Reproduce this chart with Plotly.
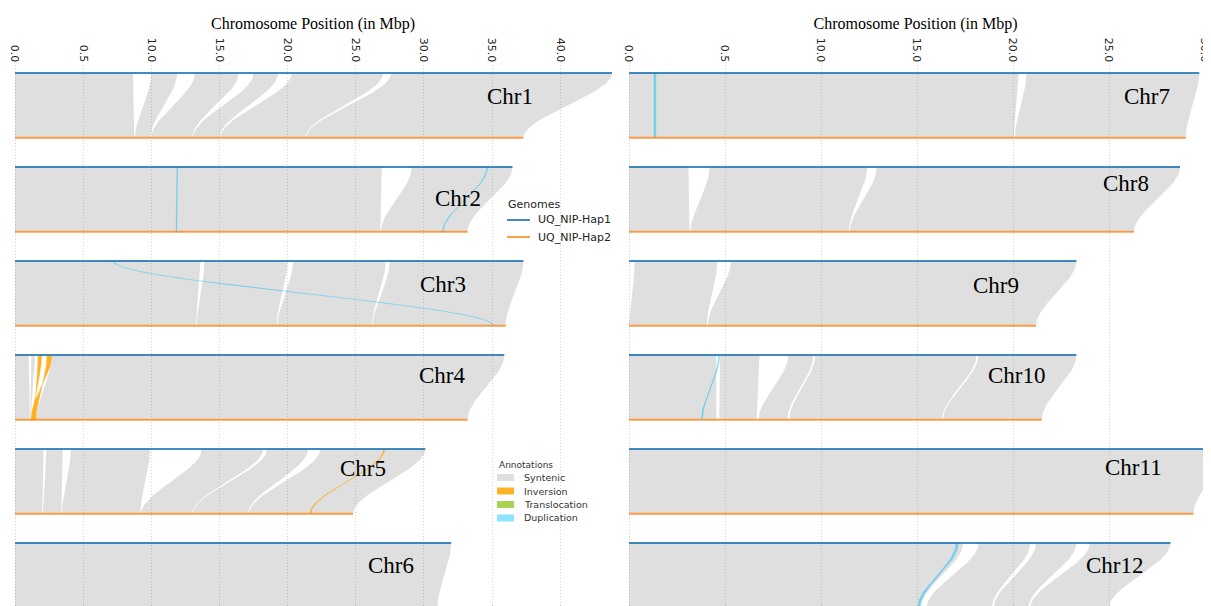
import numpy as np
import plotly.graph_objects as go

# ---------------- data (Mbp) ----------------
chromosomes = ["Chr1", "Chr2", "Chr3", "Chr4", "Chr5", "Chr6",
               "Chr7", "Chr8", "Chr9", "Chr10", "Chr11", "Chr12"]
genomes = ["UQ_NIP-Hap1", "UQ_NIP-Hap2"]
hap1_len = [43.8, 36.5, 37.3, 35.9, 30.1, 32.0, 29.7, 28.7, 23.3, 23.3, 31.0, 28.2]
hap2_len = [37.3, 33.2, 36.0, 33.2, 24.8, 31.0, 29.0, 26.3, 21.2, 21.5, 29.4, 25.0]

# syntenic blocks: (hap1 start, hap1 end, hap2 start, hap2 end)
syntenic = {
    "Chr1": [(0, 8.66, 0, 8.75), (10.0, 11.9, 8.8, 9.95), (13.2, 16.4, 10.0, 13.0),
             (17.5, 19.3, 13.05, 15.0), (20.3, 27.0, 15.05, 21.3), (27.6, 43.8, 21.35, 37.3)],
    "Chr2": [(0, 26.9, 0, 26.8), (29.1, 36.5, 26.85, 33.2)],
    "Chr3": [(0, 13.6, 0, 13.3), (13.9, 20.0, 13.35, 19.2), (20.4, 27.2, 19.25, 26.2),
             (27.5, 37.3, 26.25, 36.0)],
    "Chr4": [(0, 1.0, 0, 1.1), (1.2, 1.45, 1.12, 1.17), (2.7, 35.9, 1.55, 33.2)],
    "Chr5": [(0, 2.1, 0, 2.0), (2.3, 3.5, 2.05, 3.4), (4.1, 9.9, 3.45, 9.2),
             (13.7, 18.2, 9.25, 13.0), (18.5, 21.5, 13.05, 17.1), (22.4, 30.1, 17.15, 24.8)],
    "Chr6": [(0, 32.0, 0, 31.0)],
    "Chr7": [(0, 20.3, 0, 20.05), (20.7, 29.7, 20.1, 29.0)],
    "Chr8": [(0, 3.1, 0, 3.15), (4.2, 12.4, 3.2, 11.45), (12.9, 28.7, 11.5, 26.3)],
    "Chr9": [(0.3, 4.6, 0, 4.05), (5.3, 23.3, 4.1, 21.2)],
    "Chr10": [(0, 4.55, 0, 4.55), (4.75, 6.8, 4.7, 6.65), (8.3, 9.6, 6.75, 8.25),
              (9.7, 18.1, 8.35, 16.3), (18.2, 23.3, 16.35, 21.5)],
    "Chr11": [(0, 31.0, 0, 29.4)],
    "Chr12": [(0, 17.4, 0, 15.2), (18.2, 20.9, 15.5, 18.9), (21.2, 23.3, 19.0, 20.8),
              (24.0, 28.2, 20.9, 25.0)],
}
inversions = {
    "Chr4": [(1.7, 1.95, 1.3, 1.4), (2.35, 2.7, 1.17, 1.54)],
    "Chr5": [(27.05, 27.12, 21.65, 21.72)],
}
translocations = {}
duplications = {
    "Chr2": [(11.87, 11.93, 11.82, 11.88), (34.62, 34.68, 31.37, 31.43)],
    "Chr3": [(7.19, 7.22, 35.09, 35.12)],
    "Chr7": [(1.3, 1.4, 1.3, 1.4)],
    "Chr10": [(4.67, 4.73, 3.77, 3.83)],
    "Chr12": [(17.03, 17.15, 15.03, 15.15)],
}
annotation_types = ["Syntenic", "Inversion", "Translocation", "Duplication"]
left_ticks = [0, 5, 10, 15, 20, 25, 30, 35, 40]
left_ticktext = ["0.0", "0.5", "10.0", "15.0", "20.0", "25.0", "30.0", "35.0", "40.0"]
right_ticks = [0, 5, 10, 15, 20, 25, 30]
right_ticktext = ["0.0", "0.5", "10.0", "15.0", "20.0", "25.0", "30.0"]

# ---------------- drawing ----------------
BAND = 0.69  # vertical distance hap1 -> hap2 in row units
W, H = 1203, 598
TOP = 57
PH = H - TOP


def ribbon(ts, te, bs, be, y0, y1, inverted=False, n=40):
    t = np.linspace(0, 1, n)
    s = 3 * t ** 2 - 2 * t ** 3
    if inverted:
        bs, be = be, bs
    lx = ts + (bs - ts) * s
    rx = te + (be - te) * s
    ys = y0 + (y1 - y0) * t
    xs = np.concatenate([lx, rx[::-1], [lx[0]]])
    yy = np.concatenate([ys, ys[::-1], [ys[0]]])
    return list(xs), list(yy)


def panel_axes(panel):
    return ("x", "y") if panel == 0 else ("x2", "y2")


fig = go.Figure()


def add_blocks(blocks_dict, name, fillcolor, lw, inverted):
    for panel in (0, 1):
        xs, ys = [], []
        for i, c in enumerate(chromosomes):
            if (i < 6) != (panel == 0):
                continue
            r = i % 6
            for (ts, te, bs, be) in blocks_dict.get(c, []):
                px, py = ribbon(ts, te, bs, be, r, r + BAND, inverted)
                xs += px + [None]
                ys += py + [None]
        if not xs:
            continue
        xa, ya = panel_axes(panel)
        fig.add_trace(go.Scatter(
            x=xs, y=ys, xaxis=xa, yaxis=ya, mode="lines", fill="toself",
            fillcolor=fillcolor, line=dict(color=fillcolor, width=lw),
            name=name, showlegend=False, hoverinfo="skip"))


ann_colors = {"Syntenic": "rgba(150,150,150,0.3)", "Inversion": "rgba(255,165,0,0.85)",
              "Translocation": "rgba(154,205,50,0.85)", "Duplication": "rgba(0,191,255,0.45)"}
add_blocks(syntenic, "Syntenic", ann_colors["Syntenic"], 0, False)
add_blocks(inversions, "Inversion", ann_colors["Inversion"], 0.4, True)
add_blocks(translocations, "Translocation", ann_colors["Translocation"], 0.4, False)
add_blocks(duplications, "Duplication", ann_colors["Duplication"], 0.4, False)

# chromosome lines
genome_colors = {"UQ_NIP-Hap1": "rgba(31,119,180,0.85)", "UQ_NIP-Hap2": "rgba(255,127,14,0.75)"}
for hap, lens, off in ((genomes[0], hap1_len, 0.0), (genomes[1], hap2_len, BAND)):
    for panel in (0, 1):
        xs, ys = [], []
        for i, L in enumerate(lens):
            if (i < 6) != (panel == 0):
                continue
            r = i % 6
            xs += [0, L, None]
            ys += [r + off, r + off, None]
        xa, ya = panel_axes(panel)
        fig.add_trace(go.Scatter(
            x=xs, y=ys, xaxis=xa, yaxis=ya, mode="lines",
            line=dict(color=genome_colors[hap], width=2), name=hap,
            showlegend=False, hoverinfo="skip"))

# chromosome labels
label_pos = {
    "Chr1": (36.3, 0.255), "Chr2": (32.5, 0.33), "Chr3": (31.4, 0.245),
    "Chr4": (31.4, 0.22), "Chr5": (25.5, 0.21), "Chr6": (27.6, 0.24),
    "Chr7": (27.0, 0.245), "Chr8": (25.9, 0.18), "Chr9": (19.1, 0.26),
    "Chr10": (20.2, 0.22), "Chr11": (26.25, 0.2), "Chr12": (25.3, 0.24),
}
for i, c in enumerate(chromosomes):
    xa, ya = panel_axes(0 if i < 6 else 1)
    lx, ly = label_pos[c]
    fig.add_annotation(x=lx, y=(i % 6) + ly, xref=xa, yref=ya, text=c, showarrow=False,
                       font=dict(family="Liberation Serif", size=23, color="black"))


def pxx(fx):
    return fx / W


def pyy(fy):
    return (H - fy) / PH


# "Genomes" legend (compact spacing, like the original)
fig.add_annotation(x=pxx(498), y=pyy(197), xref="paper", yref="paper", text="Genomes",
                   xanchor="left", yanchor="middle", showarrow=False,
                   font=dict(family="DejaVu Sans", size=11, color="#222"))
for k, g in enumerate(genomes):
    cy = 212 + 17 * k
    fig.add_shape(type="line", xref="paper", yref="paper",
                  x0=pxx(499), x1=pxx(522), y0=pyy(cy), y1=pyy(cy),
                  line=dict(color=genome_colors[g], width=2))
    fig.add_annotation(x=pxx(528), y=pyy(cy), xref="paper", yref="paper", text=g,
                       xanchor="left", yanchor="middle", showarrow=False,
                       font=dict(family="DejaVu Sans", size=11, color="#222"))

# "Annotations" legend
fig.add_annotation(x=pxx(489), y=pyy(457), xref="paper", yref="paper", text="Annotations",
                   xanchor="left", yanchor="middle", showarrow=False,
                   font=dict(family="DejaVu Sans", size=9, color="#333"))
for k, name in enumerate(annotation_types):
    cy = 469.5 + 13.5 * k
    fig.add_shape(type="rect", xref="paper", yref="paper",
                  x0=pxx(489), x1=pxx(506), y0=pyy(cy - 3.5), y1=pyy(cy + 3.5),
                  fillcolor=ann_colors[name], line=dict(width=0))
    fig.add_annotation(x=pxx(514), y=pyy(cy), xref="paper", yref="paper", text=name,
                       xanchor="left", yanchor="middle", showarrow=False,
                       font=dict(family="DejaVu Sans", size=9.5, color="#333"))

axis_common = dict(side="top", showgrid=True, gridcolor="#d2d2d2", griddash="1px,2px", gridwidth=1,
                   zeroline=False, showline=False, ticks="", tickangle=90,
                   ticklabeloverflow="allow",
                   tickfont=dict(family="DejaVu Sans", size=11, color="#222"),
                   title=dict(text="Chromosome Position (in Mbp)",
                              font=dict(family="Liberation Serif", size=16, color="black"),
                              standoff=4),
                   automargin=False, fixedrange=True)
fig.update_layout(
    width=W, height=H, margin=dict(l=0, r=0, t=TOP, b=0),
    paper_bgcolor="white", plot_bgcolor="white",
    xaxis=dict(domain=[0, 610 / W], range=[-7 / 13.63, (610 - 7) / 13.63],
               tickmode="array", tickvals=left_ticks, ticktext=left_ticktext, anchor="y",
               **axis_common),
    xaxis2=dict(domain=[612 / W, 1], range=[(612 - 621) / 19.2, (W - 621) / 19.2],
                tickmode="array", tickvals=right_ticks, ticktext=right_ticktext, anchor="y2",
                **axis_common),
    yaxis=dict(range=[(H - 65) / 94, (TOP - 65) / 94], visible=False, domain=[0, 1], anchor="x"),
    yaxis2=dict(range=[(H - 65) / 94, (TOP - 65) / 94], visible=False, domain=[0, 1], anchor="x2"),
    showlegend=False,
)

fig.write_html("out.html")
